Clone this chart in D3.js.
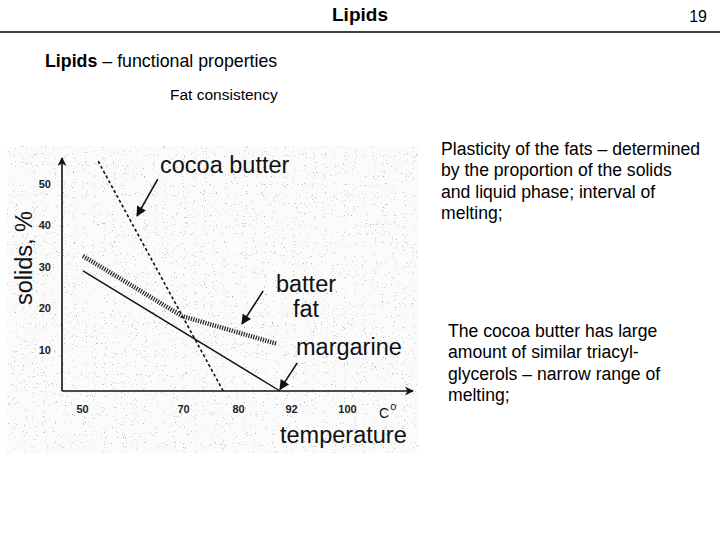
<!DOCTYPE html>
<html>
<head>
<meta charset="utf-8">
<script src="https://cdn.jsdelivr.net/npm/d3@7"></script>
<style>
  body { margin: 0; background: #fff; }
  svg { display: block; font-family: "Liberation Sans", Arial, sans-serif; }
</style>
</head>
<body>
<svg id="chart" width="720" height="540"></svg>
<script>
  // tick labels (x axis is not evenly spaced in the original)
  var xTicks = [50, 70, 80, 92, 100];
  var yTicks = [10, 20, 30, 40, 50];

  // series: temperature (C) vs solids (%)
  var cocoaTemp = [53.2, 77.3];
  var cocoaSolids = [55.5, 0];
  var butterTemp = [50.2, 69.8, 88.8];
  var butterSolids = [32.6, 18.1, 11.4];
  var margTemp = [50.2, 89.5];
  var margSolids = [29.0, 0];

  // annotation arrows [tailTemp, tailSolids, headTemp, headSolids]
  var arrowCocoa = [65.0, 51.2, 60.9, 42.3];
  var arrowButter = [85.7, 24.2, 80.9, 16.2];
  var arrowMarg = [92.9, 6.8, 89.5, 0.4];

  var rightText1 = ["Plasticity of the fats \u2013 determined", "by the proportion of the solids",
                    "and liquid phase; interval of", "melting;"];
  var rightText2 = ["The cocoa butter has large", "amount of similar triacyl-",
                    "glycerols \u2013 narrow range of", "melting;"];

  var svg = d3.select("#chart");

  // header
  svg.append("text").attr("x", 360).attr("y", 21).attr("text-anchor", "middle")
     .attr("font-size", 19).attr("font-weight", "bold").text("Lipids");
  svg.append("text").attr("x", 707).attr("y", 22).attr("text-anchor", "end")
     .attr("font-size", 16).text("19");
  svg.append("line").attr("x1", 0).attr("x2", 720).attr("y1", 32).attr("y2", 32)
     .attr("stroke", "#000").attr("stroke-width", 1.3);

  var sub = svg.append("text").attr("x", 45).attr("y", 67).attr("font-size", 17.8);
  sub.append("tspan").attr("font-weight", "bold").text("Lipids");
  sub.append("tspan").text(" \u2013 functional properties");
  svg.append("text").attr("x", 170).attr("y", 100).attr("font-size", 15.5)
     .text("Fat consistency");

  // right hand notes
  function block(lines, x, y0) {
    svg.append("g").selectAll("text").data(lines).enter().append("text")
      .attr("x", x).attr("y", function(d, i) { return y0 + i * 21.3; })
      .attr("font-size", 17.6).text(function(d) { return d; });
  }
  block(rightText1, 441, 155);
  block(rightText2, 448, 337);

  // scanned background
  var defs = svg.append("defs");
  var f = defs.append("filter").attr("id", "speckle")
     .attr("x", 0).attr("y", 0).attr("width", "100%").attr("height", "100%");
  f.append("feTurbulence").attr("type", "fractalNoise").attr("baseFrequency", 0.9)
     .attr("numOctaves", 2).attr("seed", 7).attr("result", "n");
  f.append("feColorMatrix").attr("type", "matrix")
     .attr("values", "0 0 0 0 0.45  0 0 0 0 0.45  0 0 0 0 0.45  8 0 0 0 -5.4");
  svg.append("rect").attr("x", 7).attr("y", 146).attr("width", 411).attr("height", 307)
     .attr("fill", "#fbfbfb");
  svg.append("rect").attr("x", 7).attr("y", 146).attr("width", 411).attr("height", 307)
     .attr("filter", "url(#speckle)");

  function marker(id, w, h, fill) {
    defs.append("marker").attr("id", id).attr("viewBox", "0 -5 10 10")
      .attr("refX", 9).attr("refY", 0).attr("markerUnits", "userSpaceOnUse")
      .attr("markerWidth", w).attr("markerHeight", h).attr("orient", "auto")
      .append("path").attr("d", fill ? "M0,-5L10,0L0,5Z" : "M0,-5L10,0L0,5L3,0Z")
      .attr("fill", "#111");
  }
  marker("axisArrow", 13, 9, false);
  marker("annArrow", 11, 10, true);

  var x = d3.scaleLinear().domain(xTicks).range([82, 183, 238, 291, 347]);
  var y = d3.scaleLinear().domain([0, 50]).range([391, 184]);
  var x0 = 62, y0 = y(0);

  // axes
  svg.append("line").attr("x1", x0).attr("y1", y0).attr("x2", 413).attr("y2", y0)
     .attr("stroke", "#111").attr("stroke-width", 1.6).attr("marker-end", "url(#axisArrow)");
  svg.append("line").attr("x1", x0).attr("y1", y0).attr("x2", x0).attr("y2", 158)
     .attr("stroke", "#111").attr("stroke-width", 1.6).attr("marker-end", "url(#axisArrow)");

  var xAxis = svg.append("g").attr("transform", "translate(0," + y0 + ")")
     .call(d3.axisBottom(x).tickValues(xTicks).tickSize(0).tickPadding(14));
  xAxis.select(".domain").remove();
  var yAxis = svg.append("g").attr("transform", "translate(" + (x0 - 11) + ",0)")
     .call(d3.axisLeft(y).tickValues(yTicks).tickSize(0).tickPadding(0));
  yAxis.select(".domain").remove();
  svg.selectAll(".tick text").attr("font-family", "Liberation Sans, Arial, sans-serif")
     .attr("font-size", 11).attr("font-weight", "bold").attr("fill", "#222");

  function pts(tx, ty) { return tx.map(function(t, i) { return [t, ty[i]]; }); }
  var line = d3.line().x(function(d) { return x(d[0]); }).y(function(d) { return y(d[1]); });

  svg.append("path").datum(pts(cocoaTemp, cocoaSolids)).attr("d", line)
     .attr("fill", "none").attr("stroke", "#111").attr("stroke-width", 1.6)
     .attr("stroke-dasharray", "3,2.5");
  svg.append("path").datum(pts(butterTemp, butterSolids)).attr("d", line)
     .attr("fill", "none").attr("stroke", "#222").attr("stroke-width", 4.5)
     .attr("stroke-dasharray", "1.2,1.3");
  svg.append("path").datum(pts(margTemp, margSolids)).attr("d", line)
     .attr("fill", "none").attr("stroke", "#111").attr("stroke-width", 1.4);

  [arrowCocoa, arrowButter, arrowMarg].forEach(function(a) {
    svg.append("line").attr("x1", x(a[0])).attr("y1", y(a[1]))
       .attr("x2", x(a[2])).attr("y2", y(a[3]))
       .attr("stroke", "#111").attr("stroke-width", 1.6).attr("marker-end", "url(#annArrow)");
  });

  // labels
  function label(t, lx, ly, size, anchor) {
    return svg.append("text").attr("x", lx).attr("y", ly).attr("font-size", size)
       .attr("text-anchor", anchor || "start").attr("fill", "#111").text(t);
  }
  label("cocoa butter", 160, 173, 23.5);
  label("batter", 306, 292, 23.5, "middle");
  label("fat", 306, 317, 23.5, "middle");
  label("margarine", 296, 355, 23.5);
  label("temperature", 280, 443, 23.5);
  var deg = label("C", 379, 418, 14);
  deg.append("tspan").attr("dx", 1).attr("dy", -8).attr("font-size", 11).text("o");
  svg.append("text").attr("transform", "translate(32,258) rotate(-90)")
     .attr("text-anchor", "middle").attr("font-size", 23.5).attr("fill", "#111")
     .text("solids, %");
</script>
</body>
</html>
